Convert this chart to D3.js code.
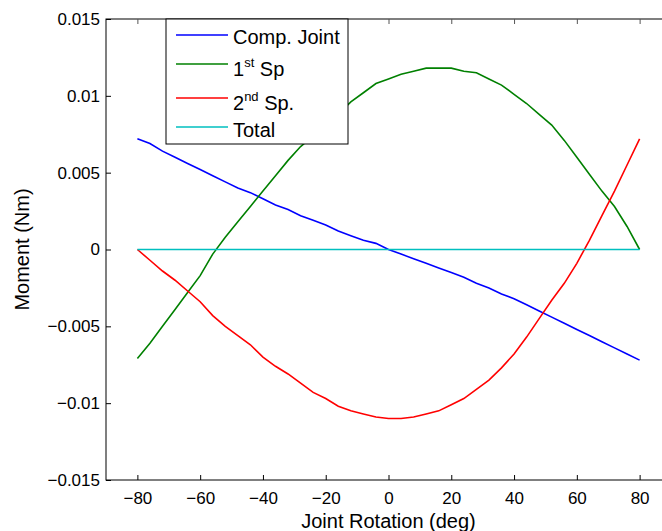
<!DOCTYPE html>
<html>
<head>
<meta charset="utf-8">
<script src="https://cdn.jsdelivr.net/npm/d3@7"></script>
<style>
  body { margin: 0; background: #fff; }
  text { font-family: "Liberation Sans", Arial, sans-serif; fill: #000; }
</style>
</head>
<body>
<div id="chart"></div>
<script>
// Joint rotation angles (deg)
const angles = [-80, -76, -72, -68, -64, -60, -56, -52, -48, -44, -40, -36, -32, -28, -24, -20, -16, -12, -8, -4,
  0, 4, 8, 12, 16, 20, 24, 28, 32, 36, 40, 44, 48, 52, 56, 60, 64, 68, 72, 76, 80];

// Moments (Nm)
const compJoint = [0.0072, 0.0069, 0.0064, 0.0060, 0.0056, 0.0052, 0.0048, 0.0044, 0.0040, 0.0037, 0.0033,
  0.0029, 0.0026, 0.0022, 0.0019, 0.0016, 0.0012, 0.0009, 0.0006, 0.0004, 0.0000,
  -0.0003, -0.0006, -0.0009, -0.0012, -0.0015, -0.0018, -0.0022, -0.0025, -0.0029, -0.0032,
  -0.0036, -0.0040, -0.0044, -0.0048, -0.0052, -0.0056, -0.0060, -0.0064, -0.0068, -0.0072];
const firstSp = [-0.0071, -0.0061, -0.0050, -0.0039, -0.0028, -0.0017, -0.0003, 0.0008, 0.0018, 0.0028, 0.0038,
  0.0048, 0.0058, 0.0067, 0.0074, 0.0081, 0.0088, 0.0096, 0.0102, 0.0108, 0.0111,
  0.0114, 0.0116, 0.0118, 0.0118, 0.0118, 0.0116, 0.0115, 0.0111, 0.0107, 0.0101,
  0.0095, 0.0088, 0.0081, 0.0071, 0.0060, 0.0049, 0.0038, 0.0028, 0.0015, 0.0000];
const secondSp = [0.0000, -0.0007, -0.0014, -0.0020, -0.0027, -0.0034, -0.0043, -0.0050, -0.0056, -0.0062, -0.0070,
  -0.0076, -0.0081, -0.0087, -0.0093, -0.0097, -0.0102, -0.0105, -0.0107, -0.0109, -0.0110,
  -0.0110, -0.0109, -0.0107, -0.0105, -0.0101, -0.0097, -0.0091, -0.0085, -0.0077, -0.0068,
  -0.0057, -0.0045, -0.0033, -0.0022, -0.0009, 0.0006, 0.0022, 0.0038, 0.0055, 0.0072];
const total = [0, 0, 0, 0, 0, 0, 0, 0, 0, 0, 0, 0, 0, 0, 0, 0, 0, 0, 0, 0,
  0, 0, 0, 0, 0, 0, 0, 0, 0, 0, 0, 0, 0, 0, 0, 0, 0, 0, 0, 0, 0];

const xTicks = [-80, -60, -40, -20, 0, 20, 40, 60, 80];
const yTicks = [-0.015, -0.01, -0.005, 0, 0.005, 0.01, 0.015];
const yTickLabels = ["\u22120.015", "\u22120.01", "\u22120.005", "0", "0.005", "0.01", "0.015"];

const seriesNames = ["Comp. Joint", "1st Sp", "2nd Sp.", "Total"];
const seriesColors = ["#0000ff", "#008000", "#ff0000", "#00bfbf"];
const seriesValues = [compJoint, firstSp, secondSp, total];

const W = 662, H = 531;
const margin = {top: 19, left: 106};
const width = 565, height = 461;

const svg = d3.select("#chart").append("svg")
  .attr("width", W)
  .attr("height", H);

const g = svg.append("g")
  .attr("transform", "translate(" + margin.left + "," + margin.top + ")");

const x = d3.scaleLinear().domain([-90, 90]).range([0, width]);
const y = d3.scaleLinear().domain([-0.015, 0.015]).range([height, 0]);

// axes box
g.append("rect")
  .attr("width", width)
  .attr("height", height)
  .attr("fill", "none")
  .attr("stroke", "#000")
  .attr("stroke-width", 1);

// bottom axis
const xAxis = g.append("g")
  .attr("transform", "translate(0," + height + ")")
  .call(d3.axisBottom(x).tickValues(xTicks).tickSizeInner(-5).tickSizeOuter(0).tickPadding(12)
    .tickFormat(d => d < 0 ? "\u2212" + Math.abs(d) : String(d)));
xAxis.select(".domain").remove();
xAxis.selectAll("text").style("font-size", "17px");

// top ticks (mirrored)
const xTop = g.append("g")
  .call(d3.axisTop(x).tickValues(xTicks).tickSizeInner(-5).tickSizeOuter(0).tickFormat(""));
xTop.select(".domain").remove();
xTop.selectAll("line").attr("stroke", "#555");

// left axis
const yAxis = g.append("g")
  .call(d3.axisLeft(y).tickValues(yTicks).tickSizeInner(-5).tickSizeOuter(0).tickPadding(6)
    .tickFormat((d, i) => yTickLabels[i]));
yAxis.select(".domain").remove();
yAxis.selectAll("text").style("font-size", "17px");

// lines
const line = d3.line()
  .x((d, i) => x(angles[i]))
  .y(d => y(d));

seriesValues.forEach((vals, k) => {
  g.append("path")
    .datum(vals)
    .attr("fill", "none")
    .attr("stroke", seriesColors[k])
    .attr("stroke-width", 1.6)
    .attr("d", line);
});

// axis titles
svg.append("text")
  .attr("x", margin.left + x(0))
  .attr("y", 528)
  .attr("text-anchor", "middle")
  .style("font-size", "20px")
  .text("Joint Rotation (deg)");

svg.append("text")
  .attr("transform", "translate(29," + (margin.top + y(0)) + ") rotate(-90)")
  .attr("text-anchor", "middle")
  .style("font-size", "20px")
  .text("Moment (Nm)");

// legend
const legend = svg.append("g").attr("transform", "translate(166,19)");
legend.append("rect")
  .attr("width", 182)
  .attr("height", 125)
  .attr("fill", "#fff")
  .attr("stroke", "#000")
  .attr("stroke-width", 1);

const rowY = [16, 45, 79, 108];
const baseY = [25, 57, 91, 118];
seriesNames.forEach((name, k) => {
  legend.append("line")
    .attr("x1", 10).attr("x2", 62)
    .attr("y1", rowY[k]).attr("y2", rowY[k])
    .attr("stroke", seriesColors[k])
    .attr("stroke-width", 1.6);
  const t = legend.append("text")
    .attr("x", 67)
    .attr("y", baseY[k])
    .style("font-size", "20px");
  if (k === 1 || k === 2) {
    t.append("tspan").text(name.charAt(0));
    t.append("tspan").attr("dy", -9).style("font-size", "13px").text(k === 1 ? "st" : "nd");
    t.append("tspan").attr("dy", 9).text(" " + name.split(" ")[1]);
  } else {
    t.text(name);
  }
});
</script>
</body>
</html>
